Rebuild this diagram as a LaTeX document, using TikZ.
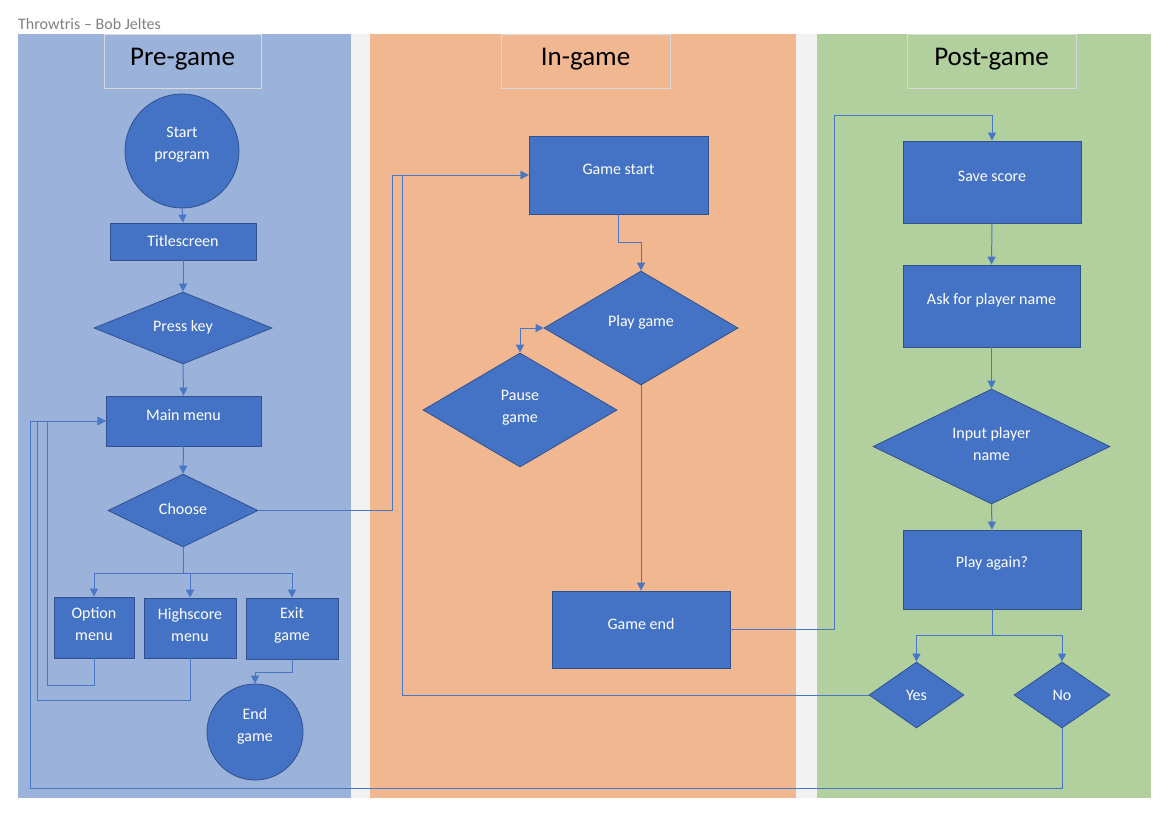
\documentclass[tikz,border=0pt]{standalone}
\usepackage{fontspec}
\setmainfont{Carlito}
\usetikzlibrary{shapes.geometric,arrows.meta,calc}
\definecolor{lblue}{HTML}{9BB2DA}
\definecolor{lorange}{HTML}{F0B790}
\definecolor{lgreen}{HTML}{B2D09E}
\definecolor{gapgray}{HTML}{F2F2F2}
\definecolor{nodefill}{HTML}{4472C4}
\definecolor{nodeline}{HTML}{2F528F}
\definecolor{connc}{HTML}{4A76C6}
\definecolor{hdrgray}{HTML}{D9D9D9}
\definecolor{titlegray}{HTML}{808080}
\begin{document}
\begin{tikzpicture}[x=1pt,y=-1pt,
  box/.style={draw=nodeline, line width=0.8pt, fill=nodefill, inner sep=0pt, text=white},
  rbox/.style={box, rectangle},
  dbox/.style={box, diamond},
  cbox/.style={box, circle},
  txt/.style={text=white, font=\fontsize{16}{22}\selectfont, align=center, inner sep=0pt},
  hdr/.style={draw=hdrgray, line width=0.8pt, rectangle, inner sep=0pt, minimum height=54pt},
  hdrtxt/.style={text=black, font=\fontsize{27}{32}\selectfont, inner sep=0pt},
  conn/.style={draw=connc, line width=1pt},
  arr/.style={conn, -{Triangle[length=8pt,width=8pt]}},
  darr/.style={conn, {Triangle[length=8pt,width=8pt]}-{Triangle[length=8pt,width=8pt]}}
]
\useasboundingbox (0,0) rectangle (1174,820);
\fill[white] (0,0) rectangle (1174,820);
% lanes
\fill[lblue] (18,34) rectangle (351,798);
\fill[gapgray] (351,34) rectangle (370,798);
\fill[lorange] (370,34) rectangle (796,798);
\fill[gapgray] (796,34) rectangle (817,798);
\fill[lgreen] (817,34) rectangle (1151,798);
% title
\node[anchor=west, text=titlegray, font=\fontsize{16}{19}\selectfont, inner sep=0pt] (doctitle) at (18,24) {Throwtris – Bob Jeltes};
% headers
\node[hdr, minimum width=157pt, label={[hdrtxt,yshift=2pt]center:Pre-game}] (hpre) at (182.5,61) {};
\node[hdr, minimum width=169pt, label={[hdrtxt,yshift=2pt]center:In-game}] (hin) at (585.5,61) {};
\node[hdr, minimum width=169pt, label={[hdrtxt,yshift=2pt]center:Post-game}] (hpost) at (991.5,61) {};
% pre-game nodes
\node[cbox, minimum size=114pt, label={[txt,yshift=6pt]center:{Start\\program}}] (start) at (182,151) {};
\node[rbox, minimum width=146pt, minimum height=37pt, label={[txt,yshift=1pt]center:Titlescreen}] (title) at (183,241.5) {};
\node[dbox, minimum width=178pt, minimum height=72pt, label={[txt,yshift=1pt]center:Press key}] (press) at (183,328) {};
\node[rbox, minimum width=155pt, minimum height=50pt, label={[txt,yshift=6pt]center:Main menu}] (main) at (183.5,421) {};
\node[dbox, minimum width=150pt, minimum height=73pt, label={[txt,yshift=2pt]center:Choose}] (choose) at (183,510.5) {};
\node[rbox, minimum width=80pt, minimum height=61pt, label={[txt,yshift=3.5pt]center:{Option\\menu}}] (opt) at (94,627.5) {};
\node[rbox, minimum width=92pt, minimum height=60pt, label={[txt,yshift=3pt]center:{Highscore\\menu}}] (hs) at (190,628) {};
\node[rbox, minimum width=92pt, minimum height=61pt, label={[txt,yshift=3.5pt]center:{Exit\\game}}] (exit) at (292,628.5) {};
\node[cbox, minimum size=96pt, label={[txt,yshift=6pt]center:{End\\game}}] (endg) at (255,732) {};
% in-game nodes
\node[rbox, minimum width=179pt, minimum height=78pt, label={[txt,yshift=6pt]center:Game start}] (gstart) at (618.5,175) {};
\node[dbox, minimum width=194pt, minimum height=114pt, label={[txt,yshift=6pt]center:Play game}] (play) at (641,328) {};
\node[dbox, minimum width=194pt, minimum height=114pt, label={[txt,yshift=2pt]center:{Pause\\game}}] (pause) at (520,410) {};
\node[rbox, minimum width=178pt, minimum height=77pt, label={[txt,yshift=6pt]center:Game end}] (gend) at (641,629.5) {};
% post-game nodes
\node[rbox, minimum width=178pt, minimum height=82pt, label={[txt,yshift=6pt]center:Save score}] (save) at (992,182) {};
\node[rbox, minimum width=177pt, minimum height=82pt, label={[txt,yshift=6pt]center:Ask for player name}] (ask) at (991.5,306) {};
\node[dbox, minimum width=237pt, minimum height=115pt, label={[txt,yshift=2.5pt]center:{Input player\\name}}] (input) at (991.5,446.5) {};
\node[rbox, minimum width=178pt, minimum height=79pt, label={[txt,yshift=6pt]center:Play again?}] (again) at (992,569.5) {};
\node[dbox, minimum width=95pt, minimum height=66pt, label={[txt]center:Yes}] (yes) at (916.5,695) {};
\node[dbox, minimum width=96pt, minimum height=66pt, label={[txt]center:No}] (no) at (1062,695) {};
% connectors: pre-game
\draw[arr] (start.south) -- (title.north);
\draw[arr] (title.south) -- (press.north);
\draw[arr] (press.south) -- (main.north);
\draw[arr] (main.south) -- (choose.north);
\draw[arr] (choose.south) -- ++(0,26) -| (opt.north);
\draw[arr] (choose.south) -- ++(0,26) -| (hs.north);
\draw[arr] (choose.south) -- ++(0,26) -| (exit.north);
\draw[arr] (opt.south) |- (47,685) |- (main.west);
\draw[arr] (hs.south) |- (37,700) |- (main.west);
\draw[arr] (exit.south) -- ++(0,13) -| (endg.north);
\draw[arr] (choose.east) -| ($(gstart.west)+(-136,0)$) -- (gstart.west);
% in-game
\draw[arr] (gstart.south) -- ++(0,28) -| (play.north);
\draw[darr] (pause.north) |- (play.west);
\draw[arr] (play.south) -- (gend.north);
\draw[arr] (gend.east) -| (834,115) -| (save.north);
% post-game
\draw[arr] (save.south) -- (ask.north);
\draw[arr] (ask.south) -- (input.north);
\draw[arr] (input.south) -- (again.north);
\draw[arr] (again.south) -- ++(0,26) -| (yes.north);
\draw[arr] (again.south) -- ++(0,26) -| (no.north);
\draw[arr] (yes.west) -| ($(gstart.west)+(-126,0)$) -- (gstart.west);
\draw[arr] (no.south) |- (30,788) |- (main.west);
\end{tikzpicture}
\end{document}
